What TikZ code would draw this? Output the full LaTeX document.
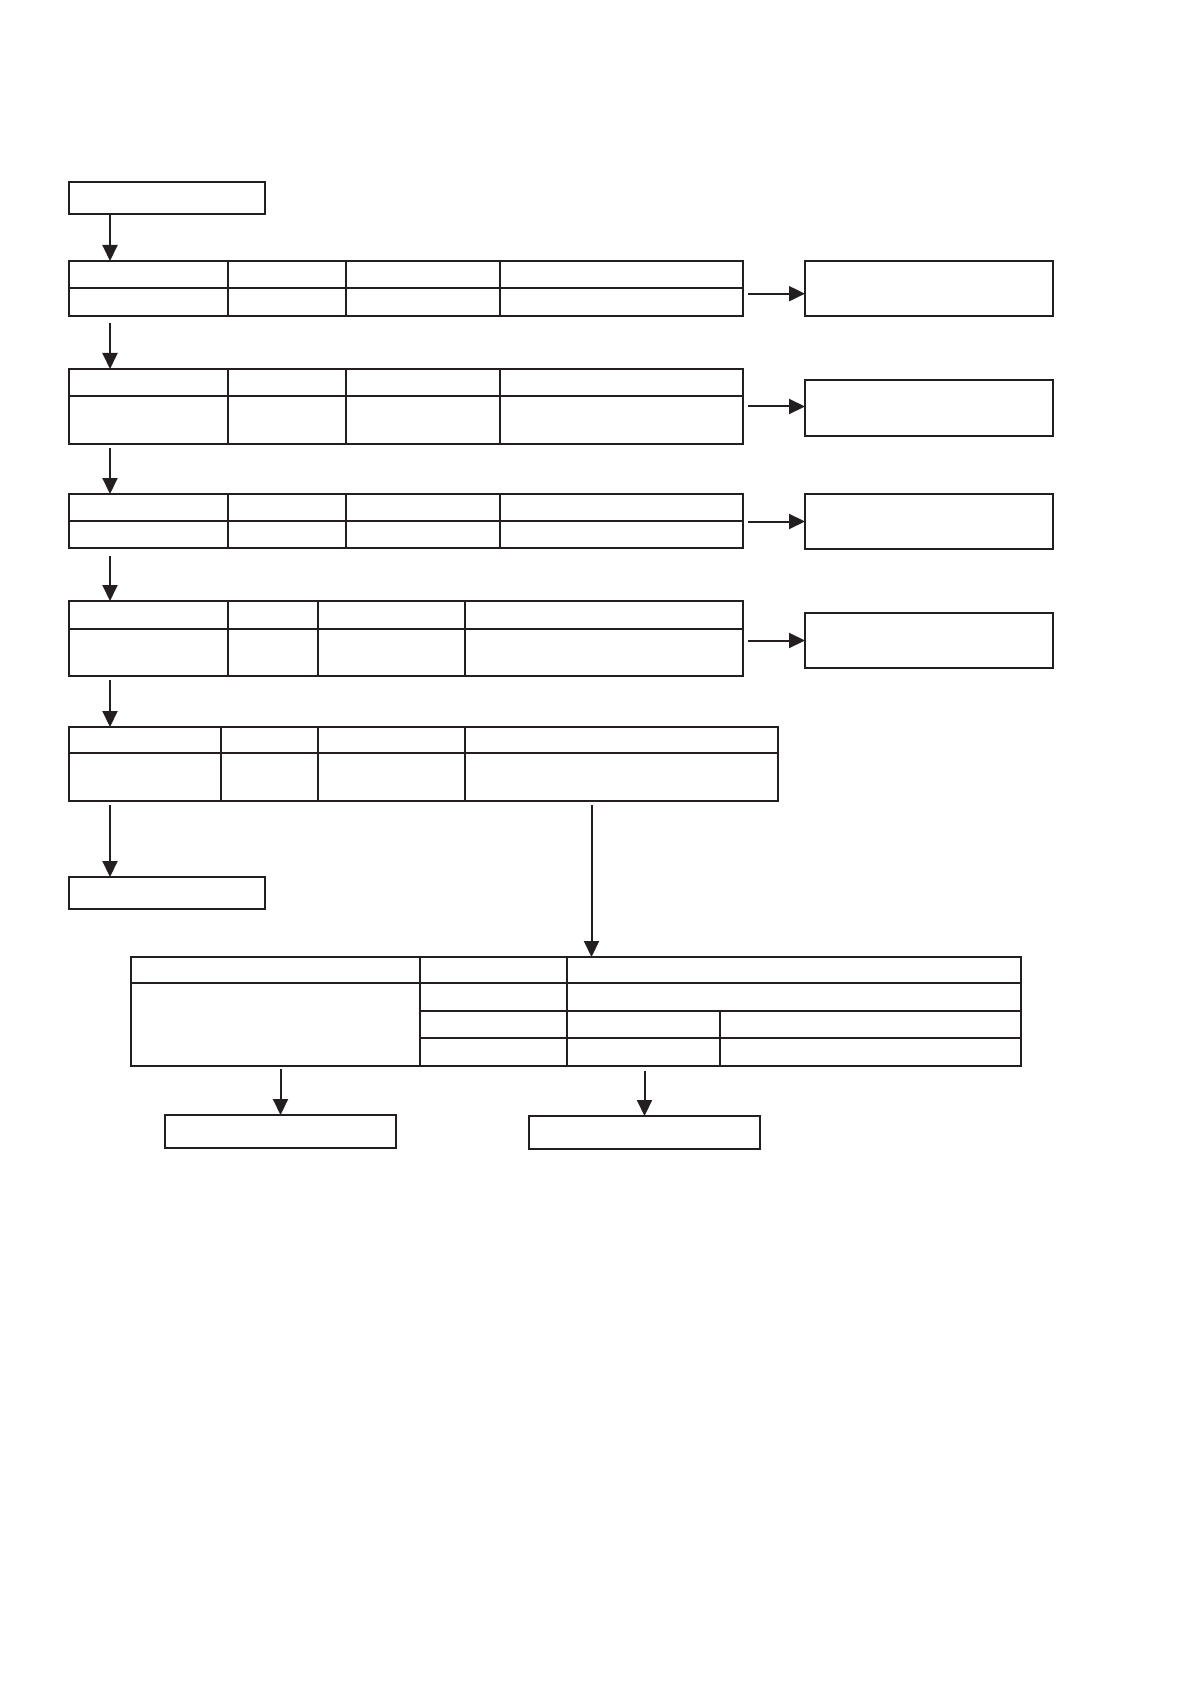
\documentclass[tikz,border=0pt]{standalone}
\usetikzlibrary{arrows.meta, fit}
\definecolor{lineblack}{RGB}{35,31,32}

\begin{document}
\begin{tikzpicture}[x=0.5pt, y=-0.5pt]
  \tikzset{
    plain_box/.style={
      draw=lineblack, line width=0.85pt, inner sep=0pt, outer sep=0pt
    },
    cell_rule/.style={draw=lineblack, line width=0.65pt},
    flow_arrow/.style={-{Triangle[length=8pt, width=7.5pt]}, draw=lineblack, line width=1pt}
  }

  \useasboundingbox (0,0) rectangle (1191,1684);
  \coordinate (spine) at (110,0);
  \coordinate (drop) at (591.5,0);

  \node[plain_box, fit={(69,182) (265,214)}] (start) {};
  \node[plain_box, fit={(69,877) (265,909)}] (stop) {};

% the five stage tables, two rows and four columns each
\foreach \ya/\ym/\yb/\xr/\ca/\cb/\cc [count=\ti] in {
    261/288/316/743/228/346/500,
    369/396/444/743/228/346/500,
    494/521/548/743/228/346/500,
    601/629/676/743/228/318/465,
    727/753/801/778/221/318/465} {
  \node[plain_box, fit={(69,\ya) (\xr,\yb)}] (T-\ti) {};
  \draw[cell_rule] (T-\ti.west |- 0,\ym) -- (T-\ti.east |- 0,\ym);
  \foreach \c in {\ca,\cb,\cc} {
    \draw[cell_rule] (T-\ti.north -| \c,0) -- (T-\ti.south -| \c,0);
  }
}

\foreach \ya/\yb [count=\bi] in {261/316, 380/436, 494/549, 613/668} {
  \node[plain_box, fit={(805,\ya) (1053,\yb)}] (B-\bi) {};
}

  % merged table at the bottom
  \node[plain_box, fit={(131,957) (1021,1066)}] (M) {};
  \draw[cell_rule] (M.west |- 0,983) -- (M.east |- 0,983);
  \foreach \y in {1011,1038} {
    \draw[cell_rule] (420,\y) -- (M.east |- 0,\y);
  }
  \foreach \x in {420,567} {
    \draw[cell_rule] (M.north -| \x,0) -- (M.south -| \x,0);
  }
  \draw[cell_rule] (720,1011) -- (M.south -| 720,0);

  \node[plain_box, fit={(165,1115) (396,1148)}] (E-1) {};
  \node[plain_box, fit={(529,1116) (760,1149)}] (E-2) {};

  % arrows
  \draw[flow_arrow] (start.south -| spine) -- (T-1.north -| spine);
\foreach \i/\j/\gap in {1/2/3.5, 2/3/2, 3/4/4, 4/5/2} {
  \draw[flow_arrow, shorten <=\gap pt] (T-\i.south -| spine) -- (T-\j.north -| spine);
}
  \draw[flow_arrow, shorten <=2pt] (T-5.south -| spine) -- (stop.north -| spine);

\foreach \i/\dy in {1/-2.6, 2/0.75, 3/0, 4/0} {
  \draw[flow_arrow, shorten <=2.5pt] ([yshift=\dy pt]T-\i.east |- B-\i.west) -- ([yshift=\dy pt]B-\i.west);
}

  \draw[flow_arrow, shorten <=2pt] (T-5.south -| drop) -- (M.north -| drop);
  \draw[flow_arrow, shorten <=1.5pt] (M.south -| E-1.north) -- (E-1.north);
  \draw[flow_arrow, shorten <=2.5pt] (M.south -| E-2.north) -- (E-2.north);

\end{tikzpicture}
\end{document}
